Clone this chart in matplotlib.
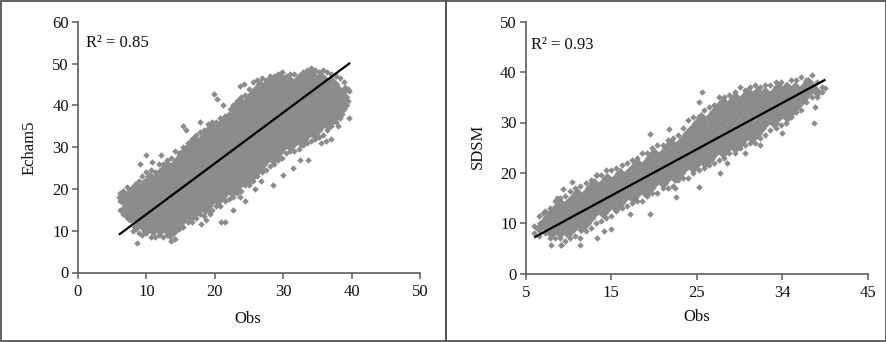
import matplotlib
matplotlib.use("Agg")
import matplotlib.pyplot as plt
from matplotlib.patches import Rectangle

plt.rcParams['font.family'] = ['Liberation Serif', 'DejaVu Serif']

# Echam5 panel, points
# inner part of the cloud, one list of y per x column
left_core_x = [6.5, 7, 7.5, 8, 8.5, 9, 9.5, 10, 10.5, 11, 11.5, 12, 12.5, 13, 13.5, 14, 14.5, 15, 15.5, 16,
               16.5, 17, 17.5, 18, 18.5, 19, 19.5, 20, 20.5, 21, 21.5, 22, 22.5, 23, 23.5, 24, 24.5, 25,
               25.5, 26, 26.5, 27, 27.5, 28, 28.5, 29, 29.5, 30, 30.5, 31, 31.5, 32, 32.5, 33, 33.5, 34,
               34.5, 35, 35.5, 36, 36.5, 37, 37.5, 38, 38.5, 39]
left_core_y = [
    [15, 17, 19],
    [14, 16, 18],
    [13, 15, 17, 19],
    [14, 16, 18, 20],
    [11, 13, 15, 17, 19, 21],
    [12, 14, 16, 18, 20],
    [11, 13, 15, 17, 19, 21],
    [10, 12, 14, 16, 18, 20, 22],
    [11, 13, 15, 17, 19, 21, 23],
    [10, 12, 14, 16, 18, 20, 22],
    [11, 13, 15, 17, 19, 21, 23],
    [10, 12, 14, 16, 18, 20, 22, 24],
    [11, 13, 15, 17, 19, 21, 23, 25],
    [10, 12, 14, 16, 18, 20, 22, 24, 26],
    [9, 11, 13, 15, 17, 19, 21, 23, 25],
    [10, 12, 14, 16, 18, 20, 22, 24, 26],
    [11, 13, 15, 17, 19, 21, 23, 25, 27],
    [12, 14, 16, 18, 20, 22, 24, 26, 28],
    [13, 15, 17, 19, 21, 23, 25, 27, 29],
    [14, 16, 18, 20, 22, 24, 26, 28, 30],
    [13, 15, 17, 19, 21, 23, 25, 27, 29, 31],
    [14, 16, 18, 20, 22, 24, 26, 28, 30, 32],
    [15, 17, 19, 21, 23, 25, 27, 29, 31],
    [16, 18, 20, 22, 24, 26, 28, 30, 32],
    [15, 17, 19, 21, 23, 25, 27, 29, 31, 33],
    [16, 18, 20, 22, 24, 26, 28, 30, 32, 34],
    [17, 19, 21, 23, 25, 27, 29, 31, 33, 35],
    [18, 20, 22, 24, 26, 28, 30, 32, 34],
    [17, 19, 21, 23, 25, 27, 29, 31, 33, 35],
    [18, 20, 22, 24, 26, 28, 30, 32, 34, 36],
    [19, 21, 23, 25, 27, 29, 31, 33, 35, 37],
    [20, 22, 24, 26, 28, 30, 32, 34, 36],
    [19, 21, 23, 25, 27, 29, 31, 33, 35, 37, 39],
    [20, 22, 24, 26, 28, 30, 32, 34, 36, 38, 40],
    [21, 23, 25, 27, 29, 31, 33, 35, 37, 39, 41],
    [22, 24, 26, 28, 30, 32, 34, 36, 38, 40],
    [23, 25, 27, 29, 31, 33, 35, 37, 39, 41],
    [22, 24, 26, 28, 30, 32, 34, 36, 38, 40, 42],
    [23, 25, 27, 29, 31, 33, 35, 37, 39, 41, 43],
    [24, 26, 28, 30, 32, 34, 36, 38, 40, 42, 44],
    [25, 27, 29, 31, 33, 35, 37, 39, 41, 43, 45],
    [26, 28, 30, 32, 34, 36, 38, 40, 42, 44],
    [27, 29, 31, 33, 35, 37, 39, 41, 43, 45],
    [28, 30, 32, 34, 36, 38, 40, 42, 44, 46],
    [27, 29, 31, 33, 35, 37, 39, 41, 43, 45],
    [28, 30, 32, 34, 36, 38, 40, 42, 44, 46],
    [29, 31, 33, 35, 37, 39, 41, 43, 45, 47],
    [30, 32, 34, 36, 38, 40, 42, 44, 46],
    [31, 33, 35, 37, 39, 41, 43, 45],
    [30, 32, 34, 36, 38, 40, 42, 44, 46],
    [31, 33, 35, 37, 39, 41, 43, 45],
    [32, 34, 36, 38, 40, 42, 44, 46],
    [31, 33, 35, 37, 39, 41, 43, 45, 47],
    [32, 34, 36, 38, 40, 42, 44, 46],
    [33, 35, 37, 39, 41, 43, 45, 47],
    [34, 36, 38, 40, 42, 44, 46, 48],
    [33, 35, 37, 39, 41, 43, 45, 47],
    [34, 36, 38, 40, 42, 44, 46],
    [35, 37, 39, 41, 43, 45, 47],
    [36, 38, 40, 42, 44, 46],
    [35, 37, 39, 41, 43, 45],
    [36, 38, 40, 42, 44, 46],
    [37, 39, 41, 43, 45],
    [38, 40, 42, 44],
    [39, 41, 43],
    [40, 42, 44],
]
# rim of the cloud
left_edge_x = [6.2, 6.6, 7.1, 7.7, 8.3, 8.9, 9.4, 10.0, 10.6, 11.2, 11.8, 12.4, 13.0, 13.6, 14.2, 14.8,
               15.4, 16.0, 16.6, 17.2, 17.8, 18.4, 19.0, 19.6, 20.2, 20.8, 21.4, 22.0, 22.6, 23.2, 23.8,
               24.4, 25.0, 25.6, 26.2, 26.8, 27.4, 28.0, 28.6, 29.2, 29.8, 30.4, 31.0, 31.6, 32.2, 32.8,
               33.4, 34.0, 34.6, 35.2, 35.8, 36.4, 37.0, 37.6, 38.2, 38.8, 39.4]
left_upper_y = [19, 19.5, 20.5, 20, 21, 22, 23, 24, 24.5, 24, 26, 26, 27, 27.5, 29, 28.5,
                30, 31, 32, 33, 33.5, 34, 35.5, 36, 36, 37, 37.5, 38, 40, 41, 42,
                42.5, 44, 45.5, 46, 46.5, 46, 47, 47, 47.5, 48, 47, 47.5, 47.5, 47, 48,
                48.5, 49, 48.5, 48, 48.5, 48, 47.5, 47, 46.5, 45.5, 44]
left_lower_y = [15, 14, 13.5, 12.5, 11, 9.5, 9, 9.5, 8.5, 8.5, 9, 8.5, 9, 7.5, 8, 10.5,
                11, 12, 12, 13, 14, 13.5, 15, 15, 16, 16, 17, 17.5, 18, 19, 19.5,
                21, 21, 22, 23, 24, 24.5, 25.5, 26, 27, 27.5, 28.5, 29, 29, 29.5, 30.5,
                31, 31.5, 32, 32.5, 33, 34, 35, 36, 37, 39, 41]
left_out_x = [6.1, 6.0, 8.0, 8.6, 9.1, 10.0, 10.8, 12.1, 15.3, 15.8, 17.8, 19.8, 20.3, 21.2, 23.7, 24.3,
              18.0, 18.7, 19.3, 20.9, 21.5, 22.6, 23.6, 24.4, 25.8, 26.7, 28.4, 29.9, 31.4, 32.4, 33.6,
              35.5, 36.2, 37.0, 38.5, 39.5, 39.5, 39.0, 38.0]
left_out_y = [17, 18, 10, 7, 26, 28, 26.5, 28, 35, 34, 36, 42.7, 41.5, 40, 44.6, 45,
              11.6, 12.5, 14, 12, 12, 15, 18, 17, 20, 22, 21, 23.4, 24.9, 26.8, 27,
              31, 31.5, 32, 38, 37, 43.5, 41, 35]

# SDSM panel
right_core_x = [6.5, 7, 7.5, 8, 8.5, 9, 9.5, 10, 10.5, 11, 11.5, 12, 12.5, 13, 13.5, 14, 14.5, 15, 15.5, 16,
                16.5, 17, 17.5, 18, 18.5, 19, 19.5, 20, 20.5, 21, 21.5, 22, 22.5, 23, 23.5, 24, 24.5, 25,
                25.5, 26, 26.5, 27, 27.5, 28, 28.5, 29, 29.5, 30, 30.5, 31, 31.5, 32, 32.5, 33, 33.5, 34,
                34.5, 35, 35.5, 36, 36.5, 37, 37.5, 38, 38.5, 39]
right_core_y = [
    [9],
    [10],
    [9, 11],
    [8, 10, 12],
    [9, 11, 13],
    [8, 10, 12, 14],
    [9, 11, 13],
    [8, 10, 12, 14],
    [9, 11, 13, 15],
    [10, 12, 14, 16],
    [9, 11, 13, 15],
    [10, 12, 14, 16],
    [11, 13, 15, 17],
    [12, 14, 16, 18],
    [13, 15, 17],
    [12, 14, 16, 18],
    [13, 15, 17, 19],
    [14, 16, 18],
    [13, 15, 17, 19],
    [14, 16, 18, 20],
    [15, 17, 19],
    [16, 18, 20],
    [15, 17, 19, 21],
    [16, 18, 20, 22],
    [17, 19, 21],
    [16, 18, 20, 22],
    [17, 19, 21, 23],
    [18, 20, 22, 24],
    [19, 21, 23],
    [18, 20, 22, 24],
    [19, 21, 23, 25],
    [20, 22, 24, 26],
    [19, 21, 23, 25],
    [20, 22, 24, 26],
    [21, 23, 25, 27],
    [22, 24, 26, 28],
    [21, 23, 25, 27, 29],
    [22, 24, 26, 28, 30],
    [23, 25, 27, 29, 31],
    [22, 24, 26, 28, 30],
    [23, 25, 27, 29, 31],
    [24, 26, 28, 30, 32],
    [25, 27, 29, 31, 33],
    [24, 26, 28, 30, 32, 34],
    [25, 27, 29, 31, 33],
    [26, 28, 30, 32, 34],
    [25, 27, 29, 31, 33, 35],
    [26, 28, 30, 32, 34],
    [27, 29, 31, 33, 35],
    [28, 30, 32, 34, 36],
    [27, 29, 31, 33, 35],
    [28, 30, 32, 34, 36],
    [29, 31, 33, 35],
    [30, 32, 34, 36],
    [31, 33, 35],
    [30, 32, 34, 36],
    [31, 33, 35, 37],
    [32, 34, 36],
    [31, 33, 35, 37],
    [32, 34, 36],
    [33, 35, 37],
    [34, 36],
    [35, 37],
    [36, 38],
    [37],
    [36],
]
right_edge_x = [6.0, 6.6, 7.2, 7.8, 8.4, 9.0, 9.6, 10.2, 10.8, 11.4, 12.0, 12.6, 13.2, 13.8, 14.4, 15.0,
                15.6, 16.2, 16.8, 17.4, 18.0, 18.6, 19.2, 19.8, 20.4, 21.0, 21.6, 22.2, 22.8, 23.4, 24.0,
                24.6, 25.2, 25.8, 26.4, 27.0, 27.6, 28.2, 28.8, 29.4, 30.0, 30.6, 31.2, 31.8, 32.4, 33.0,
                33.6, 34.2, 34.8, 35.4, 36.0, 36.6, 37.2, 37.8, 38.4, 39.0, 39.6]
right_upper_y = [9.5, 11.5, 12.5, 13, 14.5, 15, 15.5, 16.5, 17, 17.5, 18, 18.5, 19.5, 19.5, 20.5, 20.5,
                 21, 21.5, 22, 22.5, 23, 24, 24, 25, 25.5, 25.5, 26.5, 27, 27.5, 29, 30.5,
                 31, 31, 32.5, 33, 33.5, 35, 35, 35.5, 36, 37, 36.5, 37, 37.5, 37, 37.5,
                 37.5, 38, 38, 37.5, 38.5, 38.5, 39, 38.5, 39.5, 38, 37]
right_lower_y = [8, 7.5, 8, 7, 7, 7, 6.5, 7, 7.5, 7, 8.5, 9, 10, 10.5, 11, 11.5,
                 12.5, 13, 13.5, 14, 14.5, 14.5, 15.5, 16, 16, 17, 17, 17.5, 18.5, 19, 19,
                 20, 20.5, 21, 21.5, 22, 22.5, 23, 24, 24, 25, 25.5, 26, 26, 27, 27.5,
                 28.5, 29, 29.5, 30, 31, 32, 32.5, 34, 35, 35, 36]
right_out_x = [6.7, 7.0, 8.0, 9.1, 8.7, 9.4, 10.4, 13.3, 19.5, 21.7, 25.2, 25.6, 27.0, 38.7, 38.8, 40.0,
               35.0, 32.4, 30.6, 28.5, 27.7, 25.2, 22.6, 22.5, 19.5, 17.2, 15.0, 14.2, 13.3, 11.4, 9.1, 8.0]
right_out_y = [10, 12, 9, 5.7, 15, 16.8, 18.2, 19.6, 27.7, 28.7, 34, 36, 33.5, 29.9, 33, 36.8,
               28, 25.5, 24, 22, 20, 17.2, 15.2, 17, 11.8, 11.8, 8.9, 8.5, 7, 5.7, 5.7, 5.7]

left_line_x = [6.1, 39.6]
left_line_y = [9.2, 50.0]
right_line_x = [6.1, 39.9]
right_line_y = [7.3, 38.4]

left_xticks = [0, 10, 20, 30, 40, 50]
left_yticks = [0, 10, 20, 30, 40, 50, 60]
right_xticks = [5, 15, 25, 35, 45]
right_xlabels = ['5', '15', '25', '34', '45']
right_yticks = [0, 10, 20, 30, 40, 50]

W, H = 887, 342
GREY = '#8b8b8b'
AXIS = '#5e5e5e'


def make_axes(fig, x0, x1, y_top, y_bottom):
    return fig.add_axes([x0 / W, 1 - y_bottom / H, (x1 - x0) / W, (y_bottom - y_top) / H])


def draw_panel(ax, core_x, core_y, edge_x, upper, lower, out_x, out_y, line_x, line_y, core_size):
    xs = []
    ys = []
    for x, col in zip(core_x, core_y):
        for y in col:
            xs.append(x)
            ys.append(y)
    ax.scatter(xs, ys, s=core_size, marker='D', c=GREY, linewidths=0.3, edgecolors='#939393', zorder=2)
    ax.scatter(edge_x, upper, s=11, marker='D', c=GREY, linewidths=0, zorder=2)
    ax.scatter(edge_x, lower, s=11, marker='D', c=GREY, linewidths=0, zorder=2)
    ax.scatter(out_x, out_y, s=11, marker='D', c=GREY, linewidths=0, zorder=2)
    ax.plot(line_x, line_y, color='black', lw=1.6, zorder=3)
    for side in ['top', 'right']:
        ax.spines[side].set_visible(False)
    for side in ['left', 'bottom']:
        ax.spines[side].set_color(AXIS)
        ax.spines[side].set_linewidth(1.2)
    ax.tick_params(axis='both', color=AXIS, width=1.1, length=4, labelsize=12, labelcolor='#111111')
    ax.tick_params(axis='x', pad=4)
    ax.tick_params(axis='y', pad=2.5)


fig = plt.figure(figsize=(W / 100, H / 100), dpi=100)

ax1 = make_axes(fig, 78, 420.5, 21.7, 272.5)
draw_panel(ax1, left_core_x, left_core_y, left_edge_x, left_upper_y, left_lower_y,
           left_out_x, left_out_y, left_line_x, left_line_y, 22)
ax1.set_xlim(0, 50)
ax1.set_ylim(0, 60)
ax1.set_xticks(left_xticks)
ax1.set_yticks(left_yticks)

ax2 = make_axes(fig, 525.7, 868, 21.7, 273.7)
draw_panel(ax2, right_core_x, right_core_y, right_edge_x, right_upper_y, right_lower_y,
           right_out_x, right_out_y, right_line_x, right_line_y, 30)
ax2.set_xlim(5, 45)
ax2.set_ylim(0, 50)
ax2.set_xticks(right_xticks)
ax2.set_xticklabels(right_xlabels)
ax2.set_yticks(right_yticks)

fig.text(248 / W, 1 - 319 / H, 'Obs', ha='center', va='center', fontsize=12, color='#111111')
fig.text(697 / W, 1 - 317 / H, 'Obs', ha='center', va='center', fontsize=12, color='#111111')
fig.text(30 / W, 1 - 148 / H, 'Echam5', ha='center', va='center', rotation=90, fontsize=12, color='#111111')
fig.text(478 / W, 1 - 146 / H, 'SDSM', ha='center', va='center', rotation=90, fontsize=12, color='#111111')
fig.text(86 / W, 1 - 43 / H, 'R² = 0.85', ha='left', va='center', fontsize=12, color='#111111')
fig.text(531 / W, 1 - 45 / H, 'R² = 0.93', ha='left', va='center', fontsize=12, color='#111111')

# frames round the two panels
for x0, x1 in [(1, 446), (446, 886)]:
    fig.add_artist(Rectangle((x0 / W, 1 - 340.5 / H), (x1 - x0) / W, 339.5 / H, transform=fig.transFigure,
                             fill=False, edgecolor='#555555', linewidth=1.3))

fig.savefig('out.png', dpi=100)
